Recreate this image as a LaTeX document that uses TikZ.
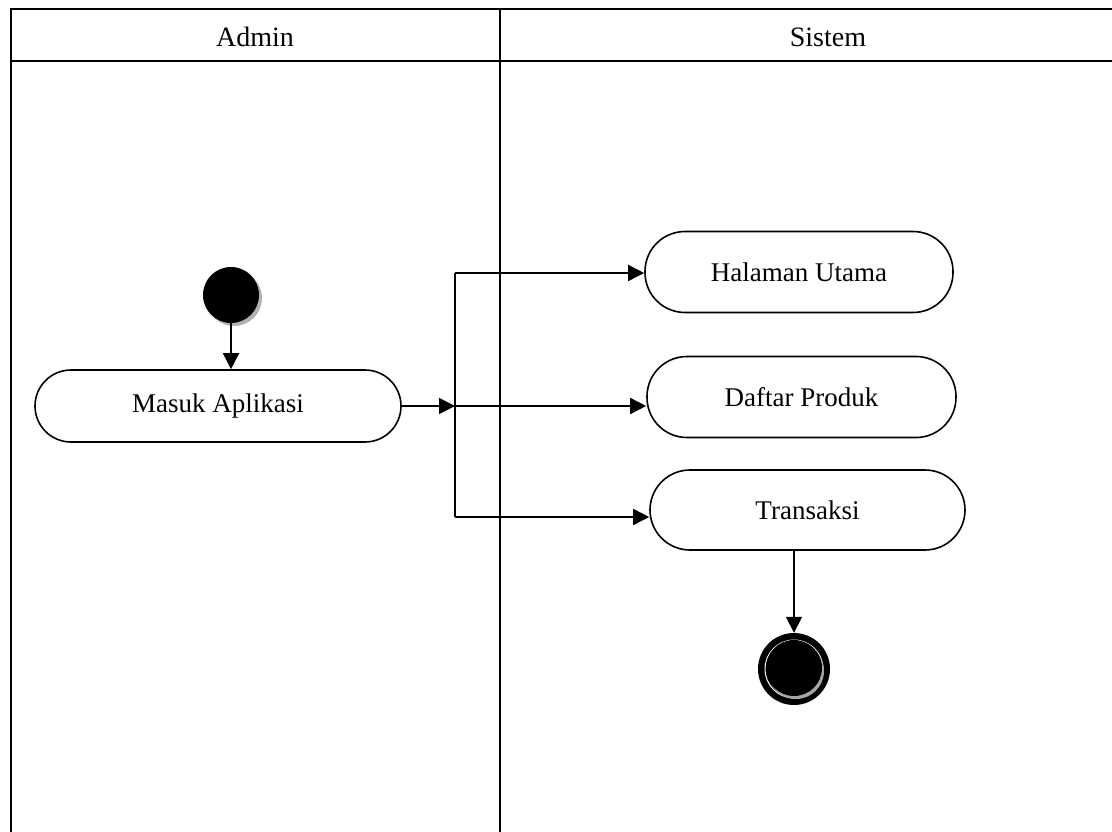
\documentclass[tikz,border=0pt]{standalone}
\usepackage{fontspec}
\setmainfont{Liberation Serif}
\usetikzlibrary{arrows.meta}
\begin{document}
\begin{tikzpicture}[x=1pt,y=-1pt,
  line/.style={line width=1.6pt},
  flow/.style={line width=1.6pt,-{Triangle[length=16pt,width=16pt]}},
  act/.style={draw,line width=1.6pt,fill=white,inner sep=0pt,font=\fontsize{27}{30}\selectfont},
  hdr/.style={font=\fontsize{28}{30}\selectfont}]
\useasboundingbox (0,0) rectangle (1112,832);
% swimlanes
\draw[line] (11,832) -- (11,9) -- (1112,9);
\draw[line] (11,61) -- (1112,61);
\draw[line] (500,9) -- (500,832);
\node[hdr] (admin) at (255,37) {Admin};
\node[hdr] (sistem) at (828,37) {Sistem};
% start
\fill[gray!60] (234,298) circle (28);
\node[circle,fill=black,minimum size=56pt,inner sep=0pt] (start) at (231,295) {};
% activities
\node[act,minimum width=366pt,minimum height=72pt,rounded corners=36pt] (masuk) at (218,406) {Masuk Aplikasi};
\node[act,minimum width=308pt,minimum height=81pt,rounded corners=40pt] (hal) at (799,272) {Halaman Utama};
\node[act,minimum width=309pt,minimum height=81pt,rounded corners=40pt] (daf) at (801.5,397) {Daftar Produk};
\node[act,minimum width=315pt,minimum height=80pt,rounded corners=40pt] (tra) at (807.5,510) {Transaksi};
% end
\node[circle,fill=black,minimum size=72pt,inner sep=0pt] (endc) at (794,669) {};
\draw[white,line width=1pt] (794,669) circle (29);
\fill[gray!70] (796,671) circle (28);
\fill[black] (794,668) circle (28);
% junction
\coordinate (j1) at (455,273);
\coordinate (j2) at (455,406);
\coordinate (j3) at (455,517);
\draw[flow] (start) -- (start |- masuk.north);
\draw[flow] (masuk.east) -- (j2);
\draw[line] (j1) -- (j3);
\draw[flow] (j1) -- (hal.west |- j1);
\draw[flow] (j2) -- (daf.west |- j2);
\draw[flow] (j3) -- (tra.west |- j3);
\draw[flow] (endc |- tra.south) -- (endc);
\end{tikzpicture}
\end{document}
